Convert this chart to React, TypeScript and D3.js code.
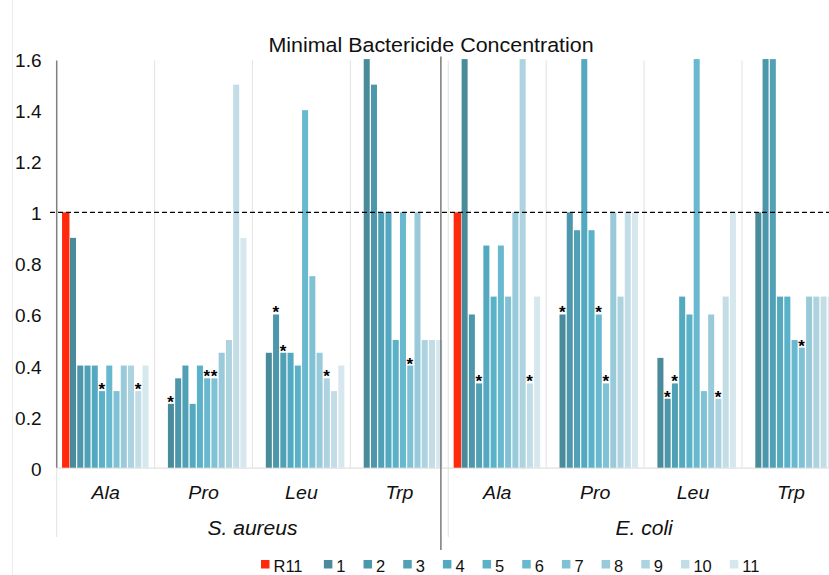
import React from "react";
import * as d3 from "d3";

const categories = ["Ala", "Pro", "Leu", "Trp", "Ala", "Pro", "Leu", "Trp"];
const species = ["S. aureus", "E. coli"];
const seriesNames = ["R11", "1", "2", "3", "4", "5", "6", "7", "8", "9", "10", "11"];

// values per series, in category order (S. aureus Ala..Trp, E. coli Ala..Trp)
const R11 = [1.0, null, null, null, 1.0, null, null, null];
const s1 = [0.9, 0.25, 0.45, 1.6, 1.6, 0.6, 0.43, 1.0];
const s2 = [0.4, 0.35, 0.6, 1.5, 0.6, 1.0, 0.27, 1.6];
const s3 = [0.4, 0.4, 0.45, 1.0, 0.33, 0.93, 0.33, 1.6];
const s4 = [0.4, 0.25, 0.45, 1.0, 0.87, 1.6, 0.67, 0.67];
const s5 = [0.3, 0.4, 0.4, 0.5, 0.67, 0.93, 0.6, 0.67];
const s6 = [0.4, 0.35, 1.4, 1.0, 0.87, 0.6, 1.6, 0.5];
const s7 = [0.3, 0.35, 0.75, 0.4, 0.67, 0.33, 0.3, 0.47];
const s8 = [0.4, 0.45, 0.45, 1.0, 1.0, 1.0, 0.6, 0.67];
const s9 = [0.4, 0.5, 0.35, 0.5, 1.6, 0.67, 0.27, 0.67];
const s10 = [0.3, 1.5, 0.3, 0.5, 0.33, 1.0, 0.67, 0.67];
const s11 = [0.4, 0.9, 0.4, 0.5, 0.67, 1.0, 1.0, 0.67];
const seriesValues: (number | null)[][] = [R11, s1, s2, s3, s4, s5, s6, s7, s8, s9, s10, s11];

const seriesColors = [
  "#ff2a0c", "#4a8b9b", "#4c97ab", "#50a1b6", "#53a9c0", "#5ab2c8", "#68b9cf",
  "#80c2d5", "#98cada", "#aed3e0", "#c3dde7", "#d6e7ee",
];

// series (by name) marked with an asterisk, per category
const significant = [["5", "10"], ["1", "6", "7"], ["2", "3", "9"], ["7"], ["3", "10"], ["1", "6", "7"], ["2", "3", "9"], ["7"]];

const yTicks = [0, 0.2, 0.4, 0.6, 0.8, 1, 1.2, 1.4, 1.6];
const threshold = 1;
const title = "Minimal Bactericide Concentration";

const FONT = "'Liberation Sans', Arial, Helvetica, sans-serif";

function charW(s: string) {
  let w = 0;
  for (const c of s) w += c === "R" ? 0.85 : 0.556;
  return w;
}

export default function App() {
  const W = 829, H = 575;
  const plotLeft = 56.7, groupW = 97.9, top = 59.1, bottom = 467.7;
  const x0 = d3.scaleBand<number>().domain(d3.range(categories.length)).range([plotLeft, plotLeft + groupW * categories.length]).padding(0);
  const x1 = d3.scaleBand<string>().domain(seriesNames).range([0, x0.bandwidth()]).paddingInner(0.17).paddingOuter(0.835);
  const y = d3.scaleLinear().domain([0, 1.6]).range([bottom, top]);
  const fmt = (v: number) => String(+v.toFixed(1));

  const dividerX = x0(4)! - 7.4;
  const halfCenter = (i: number) => (x0(i * 4)! + x0(i * 4 + 3)! + x0.bandwidth()) / 2;

  // legend layout
  const legendFont = 16.5;
  let lx = 261;
  const legendItems = seriesNames.map((n, i) => {
    const item = { n, x: lx, color: seriesColors[i] };
    lx += 12.5 + charW(n) * legendFont + 18;
    return item;
  });

  return (
    <div style={{ position: "absolute", left: 0, top: 0 }}>
      <svg width={W} height={H} style={{ display: "block", background: "#fff" }} fontFamily={FONT}>
        <rect x={0} y={0} width={W} height={H} fill="#fff" />
        <line x1={12.5} x2={12.5} y1={0} y2={H} stroke="#ececec" strokeWidth={1} />

        {/* title */}
        <text transform={`translate(431,51.7) scale(1.1,1)`} textAnchor="middle" fontSize={19.5} fill="#111">{title}</text>

        {/* category separators */}
        {d3.range(1, categories.length).map((i) => (
          <line key={"sep" + i} x1={x0(i)!} x2={x0(i)!} y1={60.5} y2={i === 4 ? 537 : bottom} stroke="#e6e6e6" strokeWidth={1.2} />
        ))}
        <line x1={x0(0)!} x2={x0(0)!} y1={bottom} y2={537} stroke="#e6e6e6" strokeWidth={1.2} />

        {/* baseline */}
        <line x1={plotLeft} x2={W} y1={bottom + 0.5} y2={bottom + 0.5} stroke="#e0e0e0" strokeWidth={1.2} />

        {/* bars */}
        {categories.map((_, ci) => (
          <g key={"g" + ci} transform={`translate(${x0(ci)},0)`}>
            {seriesNames.map((n, si) => {
              const v = seriesValues[si][ci];
              if (v == null) return null;
              const isRef = si === 0;
              const bx = x1(n)! - (isRef ? 0.7 : 0);
              const bw = x1.bandwidth() + (isRef ? 1.4 : 0);
              return <rect key={n} x={bx} y={y(v)} width={bw} height={y(0) - y(v)} fill={seriesColors[si]} />;
            })}
            {significant[ci].map((n) => {
              const si = seriesNames.indexOf(n);
              const v = seriesValues[si][ci] as number;
              return (
                <text key={"st" + n} x={x1(n)! + x1.bandwidth() / 2 - 0.3} y={y(v) + 4} textAnchor="middle" fontSize={17} fontWeight="bold" fill="#000">*</text>
              );
            })}
          </g>
        ))}

        {/* left axis */}
        <line x1={plotLeft} x2={plotLeft} y1={60.5} y2={bottom} stroke="#7f7f7f" strokeWidth={1.5} />

        {/* threshold line */}
        <line x1={50} x2={W} y1={y(threshold)} y2={y(threshold)} stroke="#000" strokeWidth={1.4} strokeDasharray="5,3" />

        {/* species divider */}
        <line x1={dividerX} x2={dividerX} y1={56.5} y2={550} stroke="#7a7a7a" strokeWidth={1.5} />

        {/* y tick labels */}
        {yTicks.map((t) => (
          <text key={"yt" + t} x={41.5} y={y(t) + 8} textAnchor="end" fontSize={19} fill="#111">{fmt(t)}</text>
        ))}

        {/* category labels */}
        {categories.map((c, ci) => (
          <text key={"cl" + ci} transform={`translate(${x0(ci)! + x0.bandwidth() / 2},499) scale(1.12,1)`} textAnchor="middle" fontSize={17.5} fontStyle="italic" fill="#111">{c}</text>
        ))}

        {/* species labels */}
        {species.map((s, i) => (
          <text key={"sp" + i} transform={`translate(${halfCenter(i)},535) scale(1.08,1)`} textAnchor="middle" fontSize={19.5} fontStyle="italic" fill="#111">{s}</text>
        ))}

        {/* legend */}
        {legendItems.map((it) => (
          <g key={"lg" + it.n}>
            <rect x={it.x} y={560} width={8.5} height={8.5} fill={it.color} />
            <text x={it.x + 12.5} y={571.5} fontSize={legendFont} fill="#111">{it.n}</text>
          </g>
        ))}
      </svg>
    </div>
  );
}
